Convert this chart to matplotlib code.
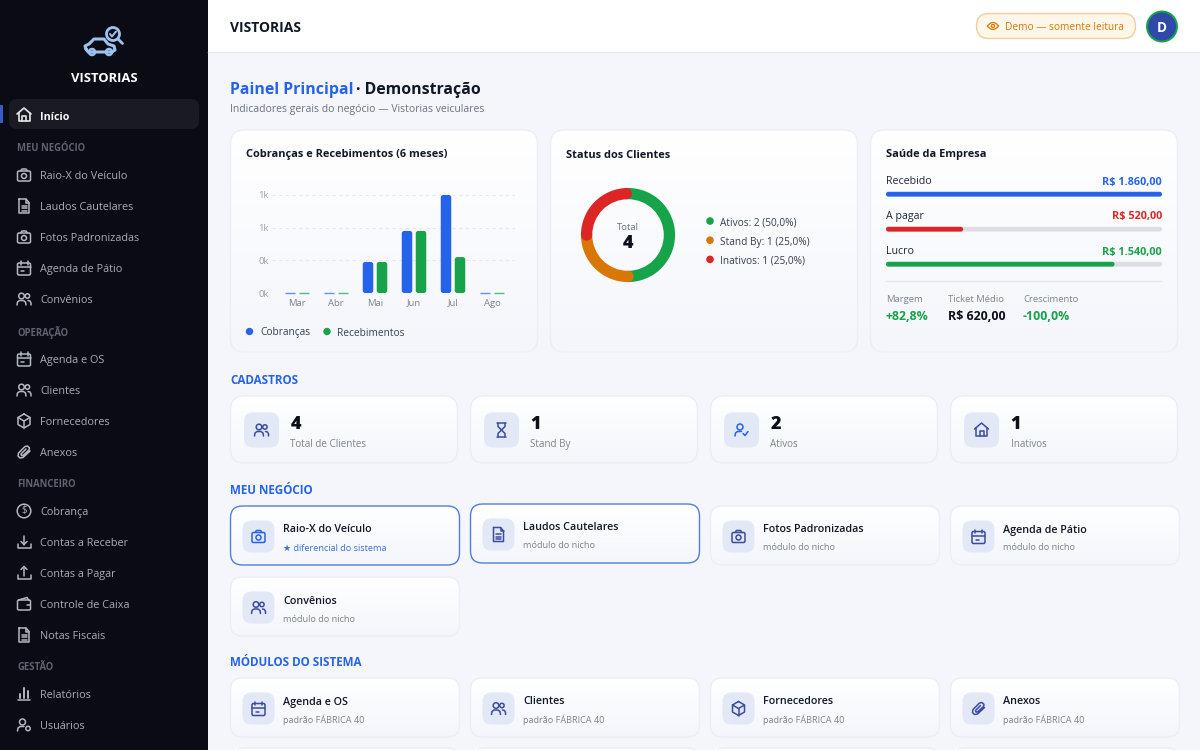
import numpy as np
from matplotlib import pyplot as plt
from matplotlib import patches as patches

plt.rcParams['font.family'] = ['Open Sans', 'DejaVu Sans']

# bar chart
months = ['Mar', 'Abr', 'Mai', 'Jun', 'Jul', 'Ago']
cobrancas = [0, 0, 380, 760, 1200, 0]
recebimentos = [0, 0, 380, 760, 440, 0]
y_ticks = [0, 400, 800, 1200]
y_tick_labels = ['0k', '0k', '1k', '1k']

# donut
status_names = ['Ativos', 'Stand By', 'Inativos']
status_values = [2, 1, 1]
status_pct = ['50,0%', '25,0%', '25,0%']

# health card
health_names = ['Recebido', 'A pagar', 'Lucro']
health_values = [1860, 520, 1540]
health_labels = ['R$ 1.860,00', 'R$ 520,00', 'R$ 1.540,00']
metric_names = ['Margem', 'Ticket Médio', 'Crescimento']
metric_labels = ['+82,8%', 'R$ 620,00', '-100,0%']

# text cards
cadastro_values = ['4', '1', '2', '1']
cadastro_names = ['Total de Clientes', 'Stand By', 'Ativos', 'Inativos']
negocio_names = ['Raio-X do Veículo', 'Laudos Cautelares', 'Fotos Padronizadas', 'Agenda de Pátio', 'Convênios']
modulo_names = ['Agenda e OS', 'Clientes', 'Fornecedores', 'Anexos']

BLUE = '#2563eb'
GREEN = '#16a34a'
RED = '#dc2626'
ORANGE = '#d97706'
DARK = '#0b0b15'
INK = '#0f172a'
GREY = '#6b7280'
NAVY = '#3a4d9f'

fig = plt.figure(figsize=(12, 7.5), dpi=100)
ax = fig.add_axes([0, 0, 1, 1])
ax.set_xlim(0, 1200)
ax.set_ylim(750, 0)
ax.axis('off')


def px(size):
    # Open Sans runs wider than the screenshot font, so sizes are pulled in a bit
    return size * 0.72 * 0.9


def rbox(x, y, w, h, r, fc, ec='none', lw=1.0, z=2):
    p = patches.FancyBboxPatch((x, y), w, h, boxstyle=f'round,pad=0,rounding_size={r}',
                               fc=fc, ec=ec, lw=lw, zorder=z)
    ax.add_patch(p)
    return p


def label(x, y, s, size=12, color=INK, weight='normal', ha='left'):
    return ax.text(x, y, s, fontsize=px(size), color=color, fontweight=weight,
                   ha=ha, va='center_baseline', zorder=6)


def card(x, y, w, h, r=14, ec='#eceef5', lw=1.0):
    # white to pale blue gradient clipped to the rounded card
    rbox(x, y, w, h, r, 'white', ec='none', z=2)
    grad = np.linspace(0, 1, 64).reshape(-1, 1)
    colors = np.array([1, 1, 1]) + grad[..., None] * (np.array([0.957, 0.965, 0.988]) - 1)
    im = ax.imshow(colors, extent=(x, x + w, y + h, y), aspect='auto', zorder=2.5, interpolation='bilinear')
    im.set_clip_path(rbox(x, y, w, h, r, 'none', z=0))
    rbox(x, y, w, h, r, 'none', ec=ec, lw=lw, z=2.6)
    ax.set_xlim(0, 1200)
    ax.set_ylim(750, 0)


def stroke(cx, cy, pts, color, lw=1.2, closed=False):
    pts = list(pts)
    if closed:
        pts.append(pts[0])
    xs = [cx + p[0] for p in pts]
    ys = [cy + p[1] for p in pts]
    ax.plot(xs, ys, color=color, lw=lw, solid_capstyle='round', solid_joinstyle='round', zorder=7)


def ring(cx, cy, r, color, lw=1.2):
    ax.add_patch(patches.Circle((cx, cy), r, fc='none', ec=color, lw=lw, zorder=7))


def line_box(cx, cy, x, y, w, h, color, lw=1.2, r=1.5):
    ax.add_patch(patches.FancyBboxPatch((cx + x, cy + y), w, h, boxstyle=f'round,pad=0,rounding_size={r}',
                                        fc='none', ec=color, lw=lw, zorder=7))


def icon(kind, cx, cy, color, lw=1.2):
    if kind == 'house':
        stroke(cx, cy, [(-7, -1), (0, -7), (7, -1)], color, lw)
        stroke(cx, cy, [(-5.5, -2), (-5.5, 6), (5.5, 6), (5.5, -2)], color, lw)
        stroke(cx, cy, [(-2, 6), (-2, 1), (2, 1), (2, 6)], color, lw)
    elif kind == 'camera':
        line_box(cx, cy, -6.5, -4, 13, 10, color, lw)
        stroke(cx, cy, [(-3.5, -4), (-2, -6), (2, -6), (3.5, -4)], color, lw)
        ring(cx, cy + 1, 2.5, color, lw)
    elif kind == 'doc':
        stroke(cx, cy, [(-5, -7), (2, -7), (5, -3.5), (5, 7), (-5, 7)], color, lw, closed=True)
        stroke(cx, cy, [(2, -7), (2, -3.5), (5, -3.5)], color, lw)
        for yy in (-0.5, 2, 4.5):
            stroke(cx, cy, [(-2.5, yy), (2.5, yy)], color, lw)
    elif kind == 'calendar':
        line_box(cx, cy, -6.5, -5, 13, 12, color, lw)
        stroke(cx, cy, [(-6.5, -1), (6.5, -1)], color, lw)
        stroke(cx, cy, [(-3.5, -7), (-3.5, -3.5)], color, lw)
        stroke(cx, cy, [(3.5, -7), (3.5, -3.5)], color, lw)
        stroke(cx, cy, [(-3, 3), (0, 3)], color, lw)
    elif kind == 'people':
        ring(cx - 2.5, cy - 3, 2.8, color, lw)
        ring(cx + 3.4, cy - 3, 2.2, color, lw)
        stroke(cx, cy, [(-7, 6), (-6.5, 3), (-4.5, 1.5), (-0.5, 1.5), (1.5, 3), (2, 6)], color, lw)
        stroke(cx, cy, [(4, 1.5), (6, 2), (7, 4), (7, 6)], color, lw)
    elif kind == 'box':
        stroke(cx, cy, [(0, -7), (6, -3.5), (6, 3.5), (0, 7), (-6, 3.5), (-6, -3.5)], color, lw, closed=True)
        stroke(cx, cy, [(-6, -3.5), (0, 0), (6, -3.5)], color, lw)
        stroke(cx, cy, [(0, 0), (0, 7)], color, lw)
    elif kind == 'clip':
        stroke(cx, cy, [(6, -1), (-1, 5.5), (-4, 6), (-6, 4), (-5.5, 1), (1, -5.5), (3.5, -6),
                        (5.5, -4), (5, -2), (-1, 3.5), (-2.5, 3.5), (-3, 2), (2, -3)], color, lw)
    elif kind == 'dollar':
        ring(cx, cy, 6.8, color, lw)
        ax.text(cx, cy, '$', color=color, fontsize=7, ha='center', va='center', zorder=7)
    elif kind == 'down':
        stroke(cx, cy, [(-6.5, 2), (-6.5, 6), (6.5, 6), (6.5, 2)], color, lw)
        stroke(cx, cy, [(0, -6.5), (0, 2.5)], color, lw)
        stroke(cx, cy, [(-3, -0.5), (0, 2.5), (3, -0.5)], color, lw)
    elif kind == 'up':
        stroke(cx, cy, [(-6.5, 2), (-6.5, 6), (6.5, 6), (6.5, 2)], color, lw)
        stroke(cx, cy, [(0, -6.5), (0, 2.5)], color, lw)
        stroke(cx, cy, [(-3, -3.5), (0, -6.5), (3, -3.5)], color, lw)
    elif kind == 'wallet':
        line_box(cx, cy, -6.5, -4, 13, 10, color, lw)
        stroke(cx, cy, [(-5.5, -4), (3, -6.5), (4.5, -4)], color, lw)
        stroke(cx, cy, [(3, 1), (6, 1)], color, lw)
    elif kind == 'bars':
        stroke(cx, cy, [(-6, 6), (6, 6)], color, lw)
        for xx, top in ((-4, 0), (0, -6), (4, -3)):
            stroke(cx, cy, [(xx, 4), (xx, top)], color, lw + 0.3)
    elif kind == 'user':
        ring(cx - 1.5, cy - 3, 3, color, lw)
        stroke(cx, cy, [(-6.5, 6), (-6, 3), (-4, 1.5), (0, 1.5)], color, lw)
        ring(cx + 4, cy + 3.5, 2.2, color, lw)
    elif kind == 'hourglass':
        stroke(cx, cy, [(-4.5, -7), (4.5, -7)], color, lw)
        stroke(cx, cy, [(-4.5, 7), (4.5, 7)], color, lw)
        stroke(cx, cy, [(-3.5, -7), (-3.5, -3.5), (3.5, 3.5), (3.5, 7)], color, lw)
        stroke(cx, cy, [(3.5, -7), (3.5, -3.5), (-3.5, 3.5), (-3.5, 7)], color, lw)
    elif kind == 'usercheck':
        ring(cx - 1.5, cy - 3, 3, color, lw)
        stroke(cx, cy, [(-6.5, 6), (-6, 3), (-4, 1.5), (0, 1.5)], color, lw)
        stroke(cx, cy, [(1.5, 3.5), (3.5, 5.5), (6.5, 1.5)], color, lw)
    elif kind == 'eye':
        t = np.linspace(-1, 1, 21)
        stroke(cx, cy, list(zip(5.5 * t, 3.5 * (1 - t ** 2))), color, lw)
        stroke(cx, cy, list(zip(5.5 * t, -3.5 * (1 - t ** 2))), color, lw)
        ring(cx, cy, 1.6, color, lw)


# page frame
ax.add_patch(patches.Rectangle((208, 0), 992, 750, fc='#f4f6fb', ec='none', zorder=0))
ax.add_patch(patches.Rectangle((0, 0), 208, 750, fc=DARK, ec='none', zorder=1))
ax.add_patch(patches.Rectangle((208, 0), 992, 51.5, fc='white', ec='none', zorder=1))
ax.plot([208, 1200], [52, 52], color='#e7e9f0', lw=1, zorder=1)

# top bar
label(230, 27, 'VISTORIAS', 15.5, '#111827', 'bold')
rbox(976.5, 13.5, 159, 25, 12.5, '#fff6ea', ec='#f3cd9c', lw=1)
icon('eye', 993, 26, ORANGE, 0.9)
label(1005, 26, 'Demo — somente leitura', 11.2, ORANGE, 500)
ax.add_patch(patches.Circle((1162, 26.5), 15, fc='#2f49a8', ec=GREEN, lw=1.4, zorder=3))
label(1162, 26.5, 'D', 15, 'white', 'bold', ha='center')

# sidebar logo
logo = '#9cc2ee'
stroke(100, 46, [(-14, 3), (-15, 0), (-11, -2), (-6, -7), (4, -7), (8, -2), (14, 0), (15, 4), (12, 6),
                 (6, 6), (-6, 6), (-12, 6)], logo, 2.2, closed=True)
ring(92, 52, 3, logo, 1.8)
ring(109, 52, 3, logo, 1.8)
ring(113, 34, 6.5, logo, 2.0)
stroke(118, 39, [(0, 0), (4.5, 4.5)], logo, 2.0)
stroke(113, 34, [(-3, 0), (-1, 2.5), (3, -2.5)], logo, 1.4)
label(104, 77, 'VISTORIAS', 14.5, 'white', 'bold', ha='center')

# sidebar menu
rbox(9, 99, 190, 30, 8, '#1a1a23')
ax.add_patch(patches.Rectangle((0, 105), 2.5, 18, fc='#3b5bc4', ec='none', zorder=3))
icon('house', 24, 115, '#e5e7eb')
label(40, 115.5, 'Início', 11.8, 'white', 'bold')
menu_heads = [(147, 'MEU NEGÓCIO'), (331, 'OPERAÇÃO'), (483, 'FINANCEIRO'), (666, 'GESTÃO')]
for y, s in menu_heads:
    label(17, y, s, 10.6, '#60636f', 'bold')
menu_items = [(175, 'camera', 'Raio-X do Veículo'), (206, 'doc', 'Laudos Cautelares'),
              (237, 'camera', 'Fotos Padronizadas'), (268, 'calendar', 'Agenda de Pátio'),
              (299, 'people', 'Convênios'), (359, 'calendar', 'Agenda e OS'), (390, 'people', 'Clientes'),
              (421, 'box', 'Fornecedores'), (452, 'clip', 'Anexos'), (511, 'dollar', 'Cobrança'),
              (542, 'down', 'Contas a Receber'), (573, 'up', 'Contas a Pagar'), (604, 'wallet', 'Controle de Caixa'),
              (635, 'doc', 'Notas Fiscais'), (694, 'bars', 'Relatórios'), (725, 'user', 'Usuários')]
for y, kind, s in menu_items:
    icon(kind, 24, y, '#b4b7c0', 1.1)
    label(40, y, s, 12.1, '#a9abb5')

# page title
t1 = label(230, 87.5, 'Painel Principal', 17.7, BLUE, 'bold')
fig.canvas.draw()
x_after = ax.transData.inverted().transform(t1.get_window_extent().corners()[2])[0]
label(x_after + 3, 87.5, '· Demonstração', 17.7, '#111827', 'bold')
label(230, 108, 'Indicadores gerais do negócio — Vistorias veiculares', 11.5, GREY)

# top cards
card(230.5, 130, 307, 222)
card(550.5, 130, 307, 222)
card(870.5, 130, 307, 222)
label(246, 153.5, 'Cobranças e Recebimentos (6 meses)', 12.2, '#111827', 'bold')
label(566, 153.5, 'Status dos Clientes', 12.2, '#111827', 'bold')
label(886, 153.5, 'Saúde da Empresa', 12.2, '#111827', 'bold')

# grouped bars, axes span x 272-515 and y 195-293 on the page
bar_ax = fig.add_axes([272 / 1200, 1 - 293 / 750, 243 / 1200, 98 / 750])
bar_ax.patch.set_alpha(0)
px_unit = 39.0
bar_ax.set_xlim(-25 / px_unit, 218 / px_unit)
bar_ax.set_ylim(0, 1200)
bar_w = 10.5 / px_unit
offset = 7 / px_unit
y_per_px = 1200 / 98
for i, (c, r) in enumerate(zip(cobrancas, recebimentos)):
    for val, dx, col in ((c, -offset, BLUE), (r, offset, GREEN)):
        if val == 0:
            bar_ax.plot([i + dx - bar_w / 2, i + dx + bar_w / 2], [0, 0], color=col, lw=1.0, alpha=0.7,
                        clip_on=False, solid_capstyle='butt', zorder=3)
        else:
            bar_ax.add_patch(patches.FancyBboxPatch((i + dx - bar_w / 2, 0), bar_w, val,
                                                    boxstyle=f'round,pad=0,rounding_size={2.5 / px_unit}',
                                                    mutation_aspect=y_per_px * px_unit,
                                                    fc=col, ec='none', zorder=3))
bar_ax.set_yticks(y_ticks)
bar_ax.set_yticklabels(y_tick_labels, fontsize=px(10.5), color='#9aa0ab')
bar_ax.set_xticks(range(len(months)))
bar_ax.set_xticklabels(months, fontsize=px(10.5), color='#7b818c')
bar_ax.tick_params(axis='x', length=0, pad=4)
bar_ax.tick_params(axis='y', length=0, pad=2.5)
bar_ax.grid(axis='y', color='#e6e8ee', lw=0.8, ls=(0, (3, 3)))
bar_ax.set_axisbelow(True)
for side in bar_ax.spines.values():
    side.set_visible(False)
for x0, x1, s, col in [(249.5, 260, 'Cobranças', BLUE), (327, 337, 'Recebimentos', GREEN)]:
    ax.add_patch(patches.Circle((x0, 331.5), 3.7, fc=col, ec='none', zorder=6))
    label(x1, 331.5, s, 11.2, '#374151')

# donut centred at 628,235, radius 48
pie_ax = fig.add_axes([(628 - 48) / 1200, 1 - (235 + 48) / 750, 96 / 1200, 96 / 750])
status_colors = [GREEN, ORANGE, RED]
ring_w = 11.5 / 48
pie_ax.pie(status_values, colors=status_colors, startangle=90, counterclock=False, radius=1,
           wedgeprops={'width': ring_w, 'edgecolor': 'none'})
pie_ax.set_xlim(-1.02, 1.02)
pie_ax.set_ylim(-1.02, 1.02)
# rounded segment ends
bounds = np.cumsum([0] + status_values) / sum(status_values)
rr = 1 - ring_w / 2
for frac, col, back in ((bounds[1], ORANGE, 0), (bounds[2], RED, 0), (bounds[3], RED, 2 / 48)):
    ang = np.pi / 2 - 2 * np.pi * frac + back
    pie_ax.add_patch(patches.Circle((rr * np.cos(ang), rr * np.sin(ang)), ring_w / 2, fc=col, ec='none', zorder=5))
label(628, 227, 'Total', 10.5, GREY, ha='center')
label(628, 241.5, '4', 20, '#0b0f19', 800, ha='center')
for i, (n, v, p) in enumerate(zip(status_names, status_values, status_pct)):
    yy = 221 + i * 19.2
    ax.add_patch(patches.Circle((710, yy), 3.8, fc=status_colors[i], ec='none', zorder=6))
    label(720, yy + 0.5, f'{n}: {v} ({p})', 11.2, '#374151')

# health bars
health_colors = [BLUE, RED, GREEN]
top = max(health_values)
for i, (n, v, s) in enumerate(zip(health_names, health_values, health_labels)):
    label_y = 180.5 + i * 35
    bar_y = 191.8 + i * 35
    label(886, label_y, n, 11.8, '#1f2937')
    label(1162, label_y, s, 12.1, health_colors[i], 'bold', ha='right')
    rbox(886, bar_y, 276, 4.8, 2.4, '#dcdee3', z=3)
    rbox(886, bar_y, 276 * v / top, 4.8, 2.4, health_colors[i], z=4)
ax.plot([886, 1161], [280.5, 280.5], color='#e5e7eb', lw=1, zorder=3)
metric_x = [886, 948, 1023]
metric_colors = [GREEN, '#0b0f19', GREEN]
for x, n, s, col in zip(metric_x, metric_names, metric_labels, metric_colors):
    label(x, 299, n, 10.5, '#7d838e')
    label(x, 315.5, s, 13.8, col, 'bold')

# section headings
for y, s in [(378.5, 'CADASTROS'), (489.5, 'MEU NEGÓCIO'), (661, 'MÓDULOS DO SISTEMA')]:
    label(230, y, s, 12.9, BLUE, 'bold')

# cadastros row
cad_x = [230.5, 470.5, 710.5, 950.5]
cad_icons = ['people', 'hourglass', 'usercheck', 'house']
for x, v, n, kind in zip(cad_x, cadastro_values, cadastro_names, cad_icons):
    card(x, 396, 227, 67)
    rbox(x + 13.5, 412.5, 35, 35, 9, '#e3e8f6', z=3)
    icon(kind, x + 31, 430, NAVY if kind != 'usercheck' else BLUE, 1.1)
    label(x + 60, 422.5, v, 20, '#0b0f19', 800)
    label(x + 60, 443, n, 11, '#7d838e')

# meu negocio rows, first two are highlighted and the second one is lifted
neg_pos = [(230.5, 506), (470.5, 504), (710.5, 506), (950.5, 506), (230.5, 577)]
neg_icons = ['camera', 'doc', 'camera', 'calendar', 'people']
for i, ((x, y), n, kind) in enumerate(zip(neg_pos, negocio_names, neg_icons)):
    hot = i < 2
    card(x, y, 229, 59, r=12, ec='#4f7fd6' if hot else '#eceef5', lw=1.0)
    rbox(x + 12, y + 14.5, 32, 32, 9, '#e3e8f6', z=3)
    icon(kind, x + 28, y + 30.5, BLUE if i == 0 else NAVY, 1.1)
    label(x + 52.5, y + 22.5, n, 11.9, '#111827', 600)
    if i == 0:
        label(x + 52.5, y + 41, '★ diferencial do sistema', 10.1, '#3b6fd8')
    else:
        label(x + 52.5, y + 41, 'módulo do nicho', 10.1, '#7d838e')

# modulos row
mod_icons = ['calendar', 'people', 'box', 'clip']
for x, n, kind in zip(cad_x, modulo_names, mod_icons):
    card(x, 678, 229, 59, r=12)
    rbox(x + 12, 692.5, 32, 32, 9, '#e3e8f6', z=3)
    icon(kind, x + 28, 708.5, NAVY, 1.1)
    label(x + 52.5, 700.5, n, 11.9, '#111827', 600)
    label(x + 52.5, 718.5, 'padrão FÁBRICA 40', 10.1, '#7d838e')
    card(x, 748, 229, 59, r=12)

fig.savefig('out.png', dpi=100)
